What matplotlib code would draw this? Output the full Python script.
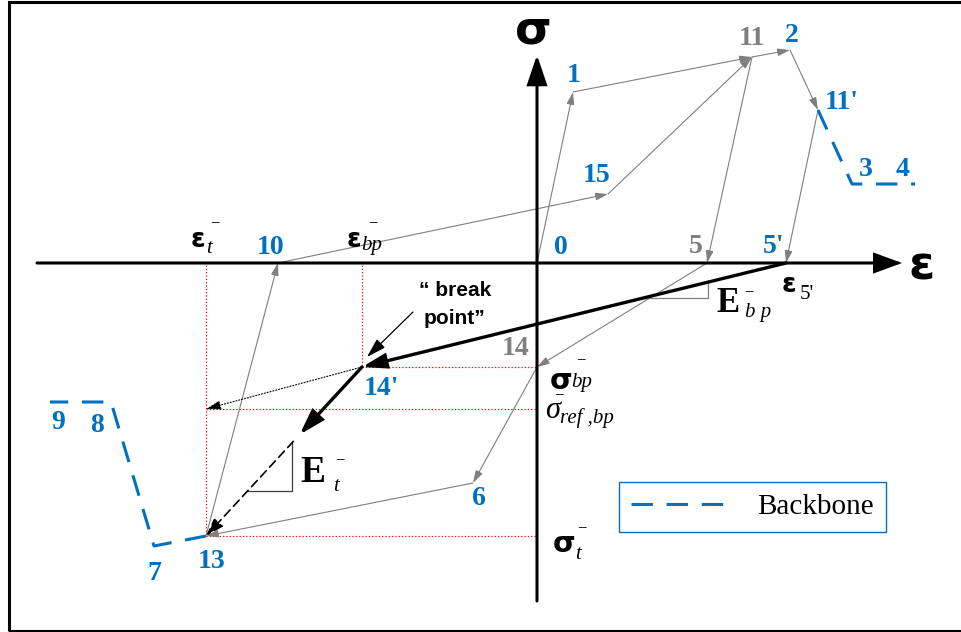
import matplotlib
matplotlib.use("Agg")
import matplotlib.pyplot as plt
from matplotlib.patches import FancyArrowPatch, Rectangle

# points of the cyclic path (strain eps, stress sig), drawing units
point_names = ["0", "1", "11", "2", "11'", "3", "4", "5", "5'", "14", "6",
               "13", "10", "15", "14'", "7", "8", "9"]
point_eps = [0, 36, 215, 253, 281, 315, 378, 170, 249, 0, -64,
             -331, -259, 71, -175, -383, -426, -487]
point_sig = [0, 171, 206, 213, 153, 79, 79, 0, 0, -104, -220,
             -273, 0, 69, -104, -283, -139, -139]

# thin grey loading / unloading branches (from, to)
branches = [("0", "1"), ("1", "11"), ("11", "2"), ("2", "11'"),
            ("11'", "5'"), ("11", "5"), ("5", "14"), ("14", "6"),
            ("6", "13"), ("13", "10"), ("10", "15"), ("15", "11")]

backbone_pos = ["11'", "3", "4"]
backbone_neg = ["13", "7", "8", "9"]
grey_points = ["5", "11", "14"]

sig_ref_bp = -146
break_frac = 0.40   # share of 14'->13 drawn as solid E_t branch
dash_frac = 0.44

P = {n: (e, s) for n, e, s in zip(point_names, point_eps, point_sig)}
eps_t, sig_t = P["13"]
eps_bp, sig_bp = P["14'"]

BLUE = "#0070C0"
GREY = "#7F7F7F"
SERIF = "Liberation Serif"
SANS = "DejaVu Sans"

fig = plt.figure(figsize=(9.61, 6.32), dpi=100)
ax = fig.add_axes([0, 0, 1, 1])
ax.set_xlim(-537, 424)
ax.set_ylim(-369, 263)
ax.axis("off")


def arrow(p0, p1, color, lw, hl, hw, ls="-", z=3):
    a = FancyArrowPatch(p0, p1, arrowstyle=f"-|>,head_length={hl},head_width={hw}",
                        mutation_scale=1, color=color, lw=lw, linestyle=ls,
                        shrinkA=0, shrinkB=0, zorder=z, joinstyle="miter")
    ax.add_patch(a)


def along(a, b, t):
    return (a[0] + t * (b[0] - a[0]), a[1] + t * (b[1] - a[1]))


# outer frame
ax.add_patch(Rectangle((-528.5, -367.5), 980, 629, fill=False, lw=2.2,
                       ec="black", clip_on=False, zorder=10))

# red guide lines
red = dict(color="red", lw=0.9, ls=":", zorder=1)
ax.plot([eps_t, eps_t], [-2, sig_t], **red)
ax.plot([eps_bp, eps_bp], [-2, sig_bp], **red)
ax.plot([eps_bp, 0], [sig_bp, sig_bp], **red)
ax.plot([eps_t, 0], [sig_ref_bp, sig_ref_bp], **red)
ax.plot([eps_t, 0], [sig_t, sig_t], **red)

# grey branches
for a, b in branches:
    arrow(P[a], P[b], GREY, 0.8, 7.5, 2.3, z=2)

# backbone curve
bb_kw = dict(color=BLUE, lw=2.2, dashes=(7, 4.5), zorder=3)
ax.plot([P[n][0] for n in backbone_pos], [P[n][1] for n in backbone_pos], **bb_kw)
bb_line, = ax.plot([P[n][0] for n in backbone_neg], [P[n][1] for n in backbone_neg], **bb_kw)

# unloading branch E_bp and reloading branch E_t
arrow(P["5'"], P["14'"], "black", 2.4, 14, 4.3, z=5)
p_brk = along(P["14'"], P["13"], break_frac)
arrow(P["14'"], p_brk, "black", 2.4, 15, 4.6, z=5)
arrow(along(P["14'"], P["13"], dash_frac), P["13"], "black", 1.2, 11, 3.6, ls=(0, (5, 3)), z=5)
arrow(P["14'"], (eps_t, sig_ref_bp), "black", 0.8, 9, 2.8, ls=":", z=4)

# slope triangles
k_bp = (P["14'"][1] - P["5'"][1]) / (P["14'"][0] - P["5'"][0])
c_eps, c_sig = 171, -35
ax.plot([P["5'"][0] + c_sig / k_bp, c_eps, c_eps],
        [c_sig, c_sig, k_bp * (c_eps - P["5'"][0])], color=GREY, lw=0.9, zorder=2)
k_t = (sig_t - sig_bp) / (eps_t - eps_bp)
c_eps, c_sig = -245, -228
ax.plot([eps_bp + (c_sig - sig_bp) / k_t, c_eps, c_eps],
        [c_sig, c_sig, sig_bp + k_t * (c_eps - eps_bp)], color="#404040", lw=0.9, zorder=2)

# coordinate axes
arrow((-500, 0), (365, 0), "black", 2.2, 16.6, 6.1, z=6)
arrow((0, -338), (0, 208), "black", 2.2, 18, 6.1, z=6)
ax.text(-4, 220, "σ", family=SANS, fontweight="bold", fontsize=34, ha="center", va="baseline")
ax.text(385, -17, "ε", family=SANS, fontweight="bold", fontsize=34, ha="center", va="baseline")

# point numbers
offsets = {"0": (24, 9), "1": (1, 10), "11": (0, 12), "2": (2, 8), "11'": (24, 1),
           "3": (14, 8), "4": (-12, 8), "5": (-11, 10), "5'": (-12, 10),
           "14": (-21, 12), "6": (6, -22), "13": (6, -32), "10": (-7, 9),
           "15": (-11, 12), "14'": (19, -28), "7": (0, -34), "8": (-14, -30),
           "9": (8, -27)}
for n, (dx, dy) in offsets.items():
    ax.text(P[n][0] + dx, P[n][1] + dy, n, family=SERIF, fontweight="bold", fontsize=20,
            color=GREY if n in grey_points else BLUE, ha="center", va="baseline", zorder=7)


def sym(x, y, main, sub, mkw, skw, sub_off, minus_off=None):
    ax.text(x, y, main, ha="left", va="baseline", zorder=7, **mkw)
    ax.text(x + sub_off[0], y + sub_off[1], sub, ha="left", va="baseline", zorder=7, **skw)
    if minus_off is not None:
        ax.text(x + minus_off[0], y + minus_off[1], "−", family=SERIF, fontsize=12,
                ha="center", va="baseline", zorder=7)


greek = dict(family=SANS, fontweight="bold", fontsize=19)
ital = dict(family=SERIF, style="italic", fontsize=15)
sym(eps_t - 15, 16, "ε", "t", greek, ital, (15, -6), (24, 20))
sym(eps_bp - 15, 16, "ε", "bp", greek, ital, (14, -3), (26, 20))
sym(P["5'"][0] - 4, -29, "ε", "5'", greek, dict(family=SERIF, fontsize=15), (18, -7))
sym(179, -49, "E", "b p", dict(family=SERIF, fontweight="bold", fontsize=25), ital, (29, -5), (33, 16))
sym(13, sig_bp - 22, "σ", "bp", dict(family=SANS, fontweight="bold", fontsize=21), ital, (21, 2), (31, 25))
sym(8, sig_ref_bp - 9, "σ", "ref ,bp", dict(family=SERIF, style="italic", fontsize=22), ital, (15, -5), (14, 19))
sym(-237, -219, "E", "t", dict(family=SERIF, fontweight="bold", fontsize=27), ital, (33, -9), (40, 18))
sym(16, sig_t - 16, "σ", "t", dict(family=SANS, fontweight="bold", fontsize=21), ital, (22, -7), (29, 20))

# break point note
note = dict(family="Liberation Sans", fontweight="bold", fontsize=15, ha="center", va="baseline")
ax.text(eps_bp + 93, -33, "“ break", **note)
ax.text(eps_bp + 92, -61, "point”", **note)
arrow((eps_bp + 51, sig_bp + 55), (eps_bp + 5, sig_bp + 10), "black", 0.9, 12, 3.6, z=5)

leg = ax.legend([bb_line], ["Backbone"], loc="upper left", bbox_to_anchor=(82, -219),
                bbox_transform=ax.transData, fancybox=False, edgecolor=BLUE, framealpha=1,
                borderpad=0.4, handlelength=3.5, handletextpad=0.85, borderaxespad=0,
                prop=dict(family=SERIF, size=21))
leg.get_frame().set_linewidth(1.0)

fig.savefig("out.png", dpi=100)
